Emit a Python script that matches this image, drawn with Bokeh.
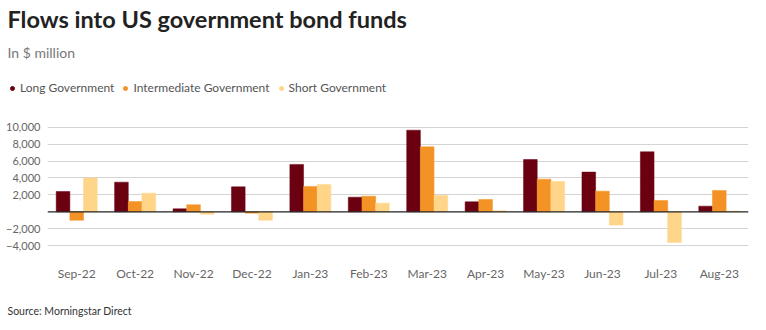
from bokeh.plotting import figure
from bokeh.layouts import column, row
from bokeh.models import (FactorRange, Range1d, FixedTicker, Span, Label,
                          Legend, LegendItem, ColumnDataSource)
from bokeh.transform import dodge
from bokeh.embed import file_html
from bokeh.resources import INLINE

months = ["Sep-22", "Oct-22", "Nov-22", "Dec-22", "Jan-23", "Feb-23",
          "Mar-23", "Apr-23", "May-23", "Jun-23", "Jul-23", "Aug-23"]
long_gov = [2400, 3500, 350, 2950, 5600, 1730, 9650, 1180, 6180, 4690, 7090, 670]
inter_gov = [-1000, 1220, 830, -160, 3000, 1850, 7680, 1460, 3860, 2440, 1340, 2520]
short_gov = [4000, 2200, -280, -1000, 3230, 1020, 1930, 120, 3580, -1570, -3620, 80]
y_ticks = [-4000, -2000, 2000, 4000, 6000, 8000, 10000]
y_tick_labels = ["\u22124,000", "\u22122,000", "2,000", "4,000", "6,000", "8,000", "10,000"]

series_names = ["Long Government", "Intermediate Government", "Short Government"]
colors = ["#6b0010", "#f39325", "#ffd58a"]

FONT = "Lato"
W = 766
HEAD_H = 110
MAIN_H = 180
FOOT_H = 40


def blank(h):
    f = figure(width=W, height=h, x_range=Range1d(0, W), y_range=Range1d(h, 0),
               output_backend="svg", toolbar_location=None,
               x_axis_location=None, y_axis_location=None,
               min_border=0, min_border_left=0, min_border_right=0,
               min_border_top=0, min_border_bottom=0)
    f.grid.visible = False
    f.outline_line_color = None
    return f


# ---- header ----
head = blank(HEAD_H)
head.add_layout(Label(x=7, y=18, text="Flows into US government bond funds", text_font=FONT,
                      text_font_style="bold", text_font_size="23.5px", text_color="#222222",
                      text_baseline="middle"))
head.add_layout(Label(x=7, y=52, text="In $ million", text_font=FONT, text_font_size="14px",
                      text_color="#777777", text_baseline="middle"))
items = []
for name, c in zip(series_names, colors):
    r = head.scatter(x=[float("nan")], y=[float("nan")], marker="circle", size=8,
                     fill_color=c, line_color=c)
    items.append(LegendItem(label=name, renderers=[r]))
legend = Legend(items=items, orientation="horizontal", location=(7, 15),
                padding=0, margin=0, spacing=6, label_standoff=3,
                glyph_width=10, glyph_height=14, label_height=14,
                label_text_font=FONT, label_text_font_size="12px",
                label_text_color="#555555", background_fill_alpha=0,
                border_line_color=None)
head.add_layout(legend, "center")

# ---- main chart ----
source = ColumnDataSource(dict(month=months, long=long_gov, inter=inter_gov, short=short_gov))

p = figure(width=W, height=MAIN_H, x_range=FactorRange(*months, range_padding=0),
           y_range=Range1d(-5520, 10790), output_backend="svg", toolbar_location=None,
           min_border_left=47, min_border_right=18, min_border_top=10, min_border_bottom=32)
p.outline_line_color = None

bw = 0.234
for col, off, c in zip(["long", "inter", "short"], [-bw, 0, bw], colors):
    p.vbar(x=dodge("month", off, range=p.x_range), top=col, width=bw, source=source,
           fill_color=c, line_color=c, line_width=0.5)

p.add_layout(Span(location=0, dimension="width", line_color="#222222", line_width=1.2))

p.xgrid.grid_line_color = None
p.ygrid.grid_line_color = "#d4d4d4"
p.ygrid.grid_line_width = 1.2

p.yaxis.ticker = FixedTicker(ticks=y_ticks)
p.yaxis.major_label_overrides = dict(zip(y_ticks, y_tick_labels))
for ax in (p.xaxis[0], p.yaxis[0]):
    ax.axis_line_color = None
    ax.major_tick_line_color = None
    ax.minor_tick_line_color = None
    ax.major_tick_out = 0
    ax.major_tick_in = 0
    ax.minor_tick_out = 0
    ax.minor_tick_in = 0
    ax.major_label_text_font = FONT
    ax.major_label_text_color = "#666666"
p.yaxis.major_label_text_font_size = "11px"
p.yaxis.major_label_standoff = 7
p.xaxis.major_label_text_font_size = "12px"
p.xaxis.major_label_standoff = 7

# ---- footer ----
foot = blank(FOOT_H)
foot.add_layout(Label(x=7, y=20, text="Source: Morningstar Direct", text_font=FONT,
                      text_font_size="10.5px", text_color="#333333", text_baseline="middle"))

layout = column(row(head), p, row(foot), spacing=0)
open("out.html", "w").write(file_html(layout, INLINE))
